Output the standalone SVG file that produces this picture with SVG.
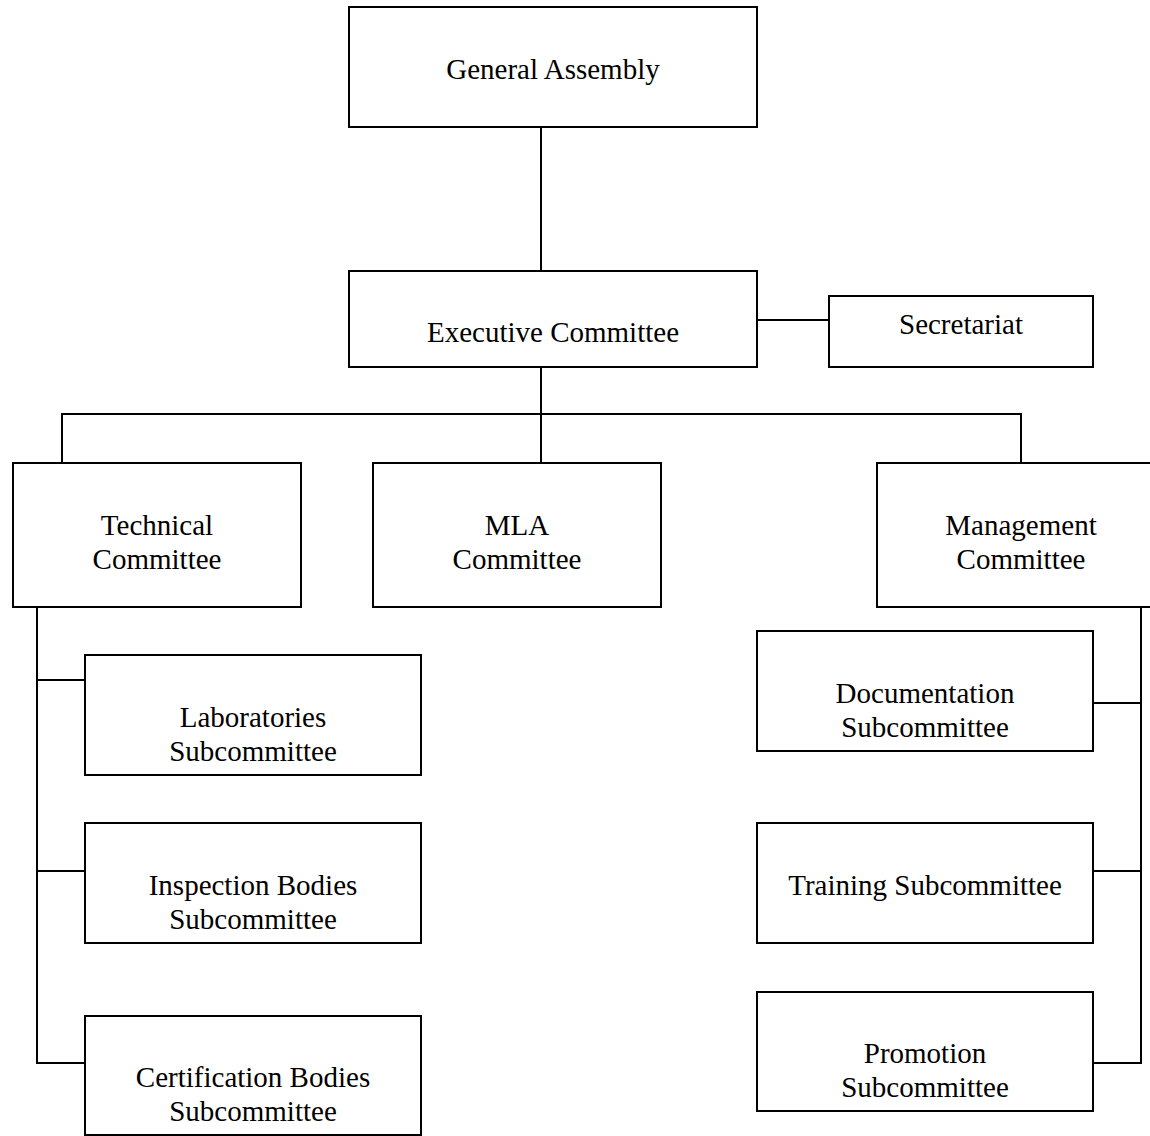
<svg xmlns="http://www.w3.org/2000/svg" width="1150" height="1136" viewBox="0 0 1150 1136">
<style>
.box{fill:#fff;stroke:#000;stroke-width:2}
.ln{fill:none;stroke:#000;stroke-width:2}
text{font-family:"Liberation Serif","Times New Roman",serif;font-size:29px;fill:#000;text-anchor:middle}
</style>
<rect width="1150" height="1136" fill="#fff"/>
<g id="connectors">
<line class="ln" x1="541" y1="127" x2="541" y2="271"/>
<line class="ln" x1="757" y1="320" x2="829" y2="320"/>
<line class="ln" x1="541" y1="367" x2="541" y2="463"/>
<polyline class="ln" points="62,463 62,414 1021,414 1021,463"/>
<polyline class="ln" points="37,607 37,1063 85,1063"/>
<line class="ln" x1="37" y1="680" x2="85" y2="680"/>
<line class="ln" x1="37" y1="871" x2="85" y2="871"/>
<polyline class="ln" points="1141,607 1141,1063 1093,1063"/>
<line class="ln" x1="1093" y1="703" x2="1141" y2="703"/>
<line class="ln" x1="1093" y1="871" x2="1141" y2="871"/>
</g>
<g id="general-assembly"><rect class="box" x="349" y="7" width="408" height="120"/><text x="553" y="79">General Assembly</text></g>
<g id="executive-committee"><rect class="box" x="349" y="271" width="408" height="96"/><text x="553" y="342">Executive Committee</text></g>
<g id="secretariat"><rect class="box" x="829" y="296" width="264" height="71"/><text x="961" y="334">Secretariat</text></g>
<g id="technical-committee"><rect class="box" x="13" y="463" width="288" height="144"/><text x="157" y="535">Technical</text><text x="157" y="569">Committee</text></g>
<g id="mla-committee"><rect class="box" x="373" y="463" width="288" height="144"/><text x="517" y="535">MLA</text><text x="517" y="569">Committee</text></g>
<g id="management-committee"><rect class="box" x="877" y="463" width="288" height="144"/><text x="1021" y="535">Management</text><text x="1021" y="569">Committee</text></g>
<g id="laboratories-subcommittee"><rect class="box" x="85" y="655" width="336" height="120"/><text x="253" y="727">Laboratories</text><text x="253" y="761">Subcommittee</text></g>
<g id="inspection-bodies-subcommittee"><rect class="box" x="85" y="823" width="336" height="120"/><text x="253" y="895">Inspection Bodies</text><text x="253" y="929">Subcommittee</text></g>
<g id="certification-bodies-subcommittee"><rect class="box" x="85" y="1016" width="336" height="119"/><text x="253" y="1087">Certification Bodies</text><text x="253" y="1121">Subcommittee</text></g>
<g id="documentation-subcommittee"><rect class="box" x="757" y="631" width="336" height="120"/><text x="925" y="703">Documentation</text><text x="925" y="737">Subcommittee</text></g>
<g id="training-subcommittee"><rect class="box" x="757" y="823" width="336" height="120"/><text x="925" y="895">Training Subcommittee</text></g>
<g id="promotion-subcommittee"><rect class="box" x="757" y="992" width="336" height="119"/><text x="925" y="1063">Promotion</text><text x="925" y="1097">Subcommittee</text></g>
</svg>
